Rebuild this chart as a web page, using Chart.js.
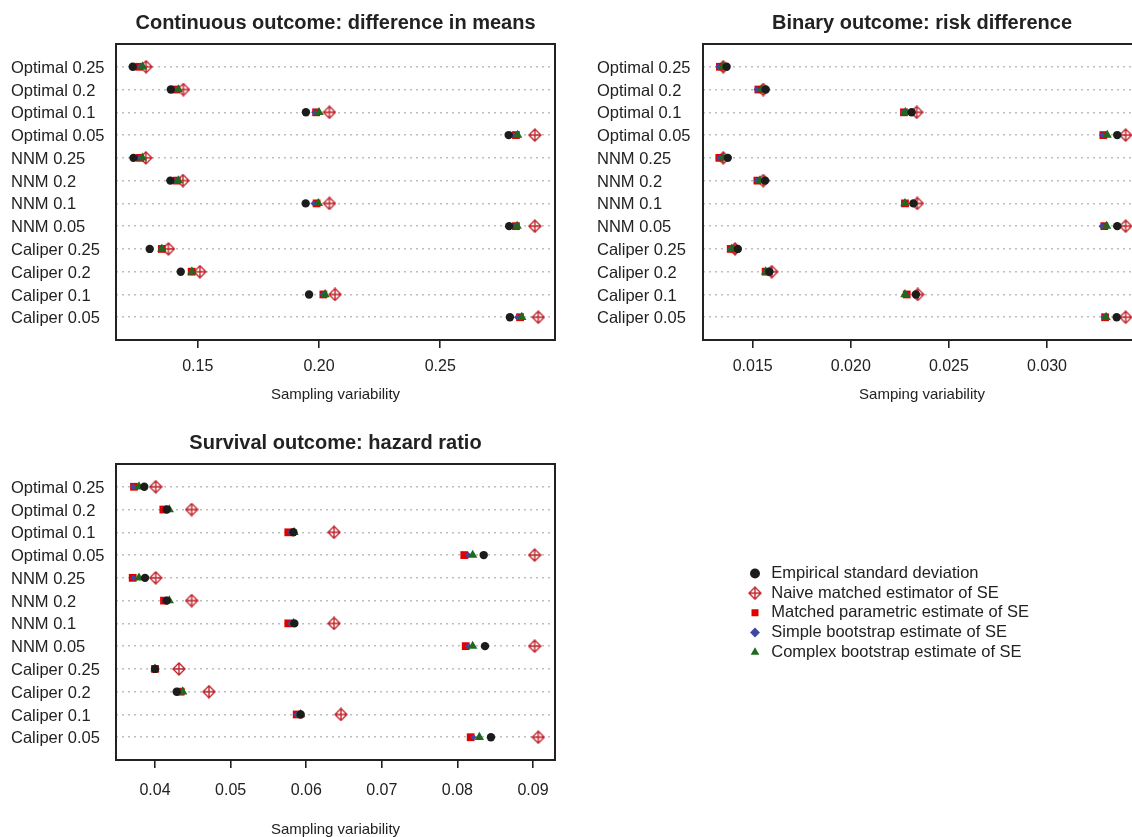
<!DOCTYPE html>
<html>
<head>
<meta charset="utf-8">
<script src="https://cdn.jsdelivr.net/npm/chart.js@4.4.1/dist/chart.umd.min.js"></script>
<style>
    html, body { margin: 0; padding: 0; background: #fff; overflow: hidden; width: 1132px; height: 837px; }
    canvas { position: absolute; }
</style>
</head>
<body>
<canvas id="c1" width="566" height="410" style="left:0;top:0"></canvas>
<canvas id="c2" width="566" height="410" style="left:586px;top:0"></canvas>
<canvas id="c3" width="566" height="426" style="left:0;top:420px"></canvas>
<canvas id="cLeg" width="640" height="130" style="left:740px;top:562px"></canvas>
<script>
// 행 라벨 (위에서 아래 순서)
const rowLabels = ['Optimal 0.25', 'Optimal 0.2', 'Optimal 0.1', 'Optimal 0.05',
    'NNM 0.25', 'NNM 0.2', 'NNM 0.1', 'NNM 0.05',
    'Caliper 0.25', 'Caliper 0.2', 'Caliper 0.1', 'Caliper 0.05'];

const seriesNames = ['Empirical standard deviation', 'Naive matched estimator of SE',
    'Matched parametric estimate of SE', 'Simple bootstrap estimate of SE', 'Complex bootstrap estimate of SE'];

// 연속형 결과: 평균 차이
const contEmp     = [0.1232, 0.1389, 0.1946, 0.2782, 0.1235, 0.1387, 0.1945, 0.2784, 0.1302, 0.1430, 0.1959, 0.2787];
const contNaive   = [0.1287, 0.1441, 0.2043, 0.2890, 0.1286, 0.1439, 0.2043, 0.2890, 0.1379, 0.1509, 0.2066, 0.2904];
const contParam   = [0.1258, 0.1411, 0.1988, 0.2812, 0.1262, 0.1413, 0.1990, 0.2812, 0.1352, 0.1475, 0.2018, 0.2829];
const contSimple  = [0.1262, 0.1410, 0.1981, 0.2803, 0.1262, 0.1410, 0.1978, 0.2808, 0.1350, 0.1474, 0.2016, 0.2817];
const contComplex = [0.1273, 0.1420, 0.2000, 0.2819, 0.1272, 0.1420, 0.1997, 0.2817, 0.1352, 0.1476, 0.2025, 0.2836];
const contTicks   = [0.15, 0.20, 0.25];

// 이분형 결과: 위험 차이
const binEmp     = [0.01367, 0.01566, 0.02310, 0.03358, 0.01373, 0.01563, 0.02319, 0.03358, 0.01424, 0.01585, 0.02332, 0.03355];
const binNaive   = [0.01350, 0.01554, 0.02336, 0.03401, 0.01350, 0.01554, 0.02339, 0.03401, 0.01410, 0.01597, 0.02341, 0.03401];
const binParam   = [0.01333, 0.01529, 0.02271, 0.03287, 0.01330, 0.01524, 0.02276, 0.03292, 0.01388, 0.01566, 0.02285, 0.03296];
const binSimple  = [0.01325, 0.01520, 0.02268, 0.03282, 0.01330, 0.01520, 0.02273, 0.03279, 0.01385, 0.01563, 0.02280, 0.03290];
const binComplex = [0.01347, 0.01546, 0.02278, 0.03307, 0.01350, 0.01537, 0.02276, 0.03304, 0.01393, 0.01566, 0.02276, 0.03301];
const binTicks   = [0.015, 0.020, 0.025, 0.030];

// 생존 결과: 위험비
const survEmp     = [0.03858, 0.04155, 0.05830, 0.08348, 0.03868, 0.04155, 0.05843, 0.08365, 0.04000, 0.04287, 0.05927, 0.08444];
const survNaive   = [0.04009, 0.04485, 0.06368, 0.09022, 0.04009, 0.04485, 0.06368, 0.09022, 0.04317, 0.04714, 0.06460, 0.09070];
const survParam   = [0.03722, 0.04110, 0.05763, 0.08091, 0.03705, 0.04119, 0.05763, 0.08110, 0.04000, 0.04340, 0.05874, 0.08176];
const survSimple  = [0.03713, 0.04141, 0.05786, 0.08144, 0.03713, 0.04132, 0.05790, 0.08144, 0.04000, 0.04330, 0.05870, 0.08210];
const survComplex = [0.03788, 0.04189, 0.05839, 0.08202, 0.03788, 0.04189, 0.05830, 0.08202, 0.04000, 0.04366, 0.05927, 0.08290];
const survTicks   = [0.04, 0.05, 0.06, 0.07, 0.08, 0.09];

Chart.defaults.font.family = '"Liberation Sans", Arial, sans-serif';
Chart.defaults.color = '#222';

const cols = { emp: '#1c1c1c', naive: '#c0262d', param: '#e00000', simple: '#3f48a0', complex: '#1f6a1f' };

// 다이아몬드+십자 마커 (R pch 9)
function diamondPlus() {
    const c = document.createElement('canvas');
    c.width = 14; c.height = 14;
    const g = c.getContext('2d');
    g.strokeStyle = cols.naive;
    g.lineWidth = 1.4;
    g.beginPath();
    g.moveTo(7, 1); g.lineTo(13, 7); g.lineTo(7, 13); g.lineTo(1, 7); g.closePath();
    g.moveTo(7, 1); g.lineTo(7, 13);
    g.moveTo(1, 7); g.lineTo(13, 7);
    g.stroke();
    return c;
}
const dpMarker = diamondPlus();

function pts(vals) {
    return vals.map((v, i) => ({ x: v, y: i + 1 }));
}

function makeSets(emp, naive, param, simple, complex) {
    return [
        { label: seriesNames[0], data: pts(emp), pointStyle: 'circle', pointRadius: 4.2,
          backgroundColor: cols.emp, borderColor: cols.emp, borderWidth: 0, order: 1 },
        { label: seriesNames[1], data: pts(naive), pointStyle: dpMarker,
          backgroundColor: cols.naive, borderColor: cols.naive, borderWidth: 1, order: 5 },
        { label: seriesNames[2], data: pts(param), pointStyle: 'rect', pointRadius: 5.5,
          backgroundColor: cols.param, borderColor: cols.param, borderWidth: 0, order: 4 },
        { label: seriesNames[3], data: pts(simple), pointStyle: 'rectRot', pointRadius: 3.2,
          backgroundColor: cols.simple, borderColor: cols.simple, borderWidth: 0, order: 3 },
        { label: seriesNames[4], data: pts(complex), pointStyle: 'triangle', pointRadius: 5.4,
          backgroundColor: cols.complex, borderColor: cols.complex, borderWidth: 0, order: 2 }
    ];
}

// 플롯 영역 테두리
const boxPlugin = {
    id: 'box',
    beforeDatasetsDraw(chart) {
        const a = chart.chartArea;
        const g = chart.ctx;
        g.save();
        g.strokeStyle = '#222';
        g.lineWidth = 2;
        g.strokeRect(a.left, a.top, a.right - a.left, a.bottom - a.top);
        g.restore();
    }
};

function makePanel(id, cfg) {
    return new Chart(document.getElementById(id), {
        type: 'scatter',
        data: { datasets: makeSets(...cfg.series) },
        options: {
            responsive: false,
            animation: false,
            events: [],
            layout: { padding: { left: 11, right: 11, top: 0, bottom: 0 } },
            plugins: {
                legend: { display: false },
                tooltip: { enabled: false },
                title: {
                    display: true, text: cfg.title, fullSize: false,
                    font: { size: 20, weight: 'bold' }, color: '#222',
                    padding: { top: 11, bottom: 9 }
                }
            },
            scales: {
                x: {
                    type: 'linear', min: cfg.xMin, max: cfg.xMax,
                    afterBuildTicks: ax => { ax.ticks = cfg.ticks.map(v => ({ value: v })); },
                    afterFit: ax => { ax.height = cfg.xAxisH; },
                    ticks: { font: { size: 16 }, color: '#222', padding: cfg.tickPad, maxRotation: 0, autoSkip: false,
                             callback: v => v.toFixed(cfg.dec) },
                    grid: { drawOnChartArea: false, drawTicks: true, tickLength: 8, color: '#222', lineWidth: 1.6 },
                    border: { display: false },
                    title: { display: true, text: cfg.xTitle, font: { size: 15 }, color: '#222',
                             padding: { top: 0, bottom: cfg.titlePadB } }
                },
                y: {
                    type: 'linear', min: 0, max: 13, reverse: true,
                    afterBuildTicks: ax => { ax.ticks = rowLabels.map((_, i) => ({ value: i + 1 })); },
                    afterFit: ax => { ax.width = cfg.axisW; },
                    ticks: { font: { size: 16.5 }, color: '#222', crossAlign: 'far', padding: 0, autoSkip: false,
                             labelOffset: 1.5, callback: v => rowLabels[v - 1] },
                    grid: { drawTicks: false, color: '#bdbdbd', lineWidth: 1.5 },
                    border: { display: false, dash: [2, 4] }
                }
            }
        },
        plugins: [boxPlugin]
    });
}

makePanel('c1', {
    title: 'Continuous outcome: difference in means', xTitle: 'Sampling variability',
    series: [contEmp, contNaive, contParam, contSimple, contComplex],
    xMin: 0.1163, xMax: 0.2973, ticks: contTicks, dec: 2,
    axisW: 105, xAxisH: 70, tickPad: 9, titlePadB: 6
});

makePanel('c2', {
    title: 'Binary outcome: risk difference', xTitle: 'Samping variability',
    series: [binEmp, binNaive, binParam, binSimple, binComplex],
    xMin: 0.012467, xMax: 0.034791, ticks: binTicks, dec: 3,
    axisW: 106, xAxisH: 70, tickPad: 9, titlePadB: 6
});

makePanel('c3', {
    title: 'Survival outcome: hazard ratio', xTitle: 'Sampling variability',
    series: [survEmp, survNaive, survParam, survSimple, survComplex],
    xMin: 0.03484, xMax: 0.09291, ticks: survTicks, dec: 2,
    axisW: 105, xAxisH: 86, tickPad: 13, titlePadB: 7
});

// 범례 전용 차트
const legendSets = makeSets([], [], [], [], []).map(d => { delete d.order; return d; });
new Chart(document.getElementById('cLeg'), {
    type: 'scatter',
    data: { datasets: legendSets },
    options: {
        responsive: false,
        animation: false,
        events: [],
        layout: { padding: { left: 3.8, top: 0 } },
        scales: { x: { display: false }, y: { display: false } },
        plugins: {
            tooltip: { enabled: false },
            legend: {
                position: 'left', align: 'start',
                labels: { usePointStyle: true, boxWidth: 16, boxHeight: 7, padding: 3.2,
                          font: { size: 16.5 }, color: '#222' }
            }
        }
    }
});
</script>
</body>
</html>
